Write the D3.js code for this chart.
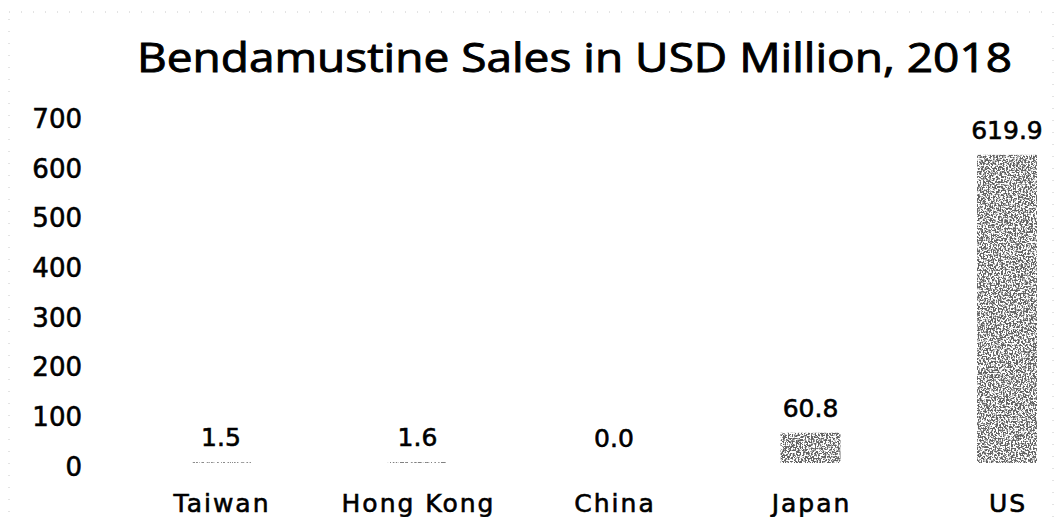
<!DOCTYPE html>
<html>
<head>
<meta charset="utf-8">
<script src="https://cdn.jsdelivr.net/npm/d3@7"></script>
<style>
  body { margin: 0; background: #fff; }
  svg { display: block; }
</style>
</head>
<body>
<div id="chart"></div>
<script>
// chart data
var countries = ["Taiwan", "Hong Kong", "China", "Japan", "US"];
var sales = [1.5, 1.6, 0.0, 60.8, 619.9];
var yTicks = [0, 100, 200, 300, 400, 500, 600, 700];
var title = "Bendamustine Sales in USD Million, 2018";

var svgWidth = 1057;
var svgHeight = 517;

var svg = d3.select("#chart")
  .append("svg")
  .attr("width", svgWidth)
  .attr("height", svgHeight);

// scanned grain look for the bars
var defs = svg.append("defs");
var filter = defs.append("filter")
  .attr("id", "grain")
  .attr("x", 0).attr("y", 0)
  .attr("width", 1).attr("height", 1);
filter.append("feTurbulence")
  .attr("type", "fractalNoise")
  .attr("baseFrequency", 0.6)
  .attr("numOctaves", 2)
  .attr("seed", 3)
  .attr("result", "noise");
filter.append("feColorMatrix")
  .attr("in", "noise")
  .attr("type", "matrix")
  .attr("values", "0 0 0 0 0.12  0 0 0 0 0.12  0 0 0 0 0.12  8 0 0 0 -3.5")
  .attr("result", "dots");
filter.append("feComposite")
  .attr("in", "dots")
  .attr("in2", "SourceGraphic")
  .attr("operator", "in");

// faint dotted frame from the scan
svg.append("rect")
  .attr("x", 9).attr("y", 12)
  .attr("width", 1044).attr("height", 520)
  .attr("fill", "none")
  .attr("stroke", "#c8c8c8")
  .attr("stroke-width", 1)
  .attr("stroke-dasharray", "1,11");

// scales
var x = d3.scaleBand()
  .domain(countries)
  .range([122.75, 1105.25])
  .paddingInner(0.695)
  .paddingOuter(0.3475);

var y = d3.scaleLinear()
  .domain([0, 700])
  .range([463, 115]);

// title
svg.append("text")
  .attr("x", 574.5)
  .attr("y", 72)
  .attr("text-anchor", "middle")
  .attr("textLength", 875)
  .attr("lengthAdjust", "spacingAndGlyphs")
  .style("font-family", "'Open Sans', sans-serif")
  .style("font-size", "40px")
  .style("fill", "#000")
  .style("stroke", "#000")
  .style("stroke-width", "0.9px")
  .text(title);

// left axis, no line or ticks, just labels
var leftAxis = d3.axisLeft(y)
  .tickValues(yTicks)
  .tickSize(0)
  .tickPadding(0);

var yAxis = svg.append("g")
  .attr("transform", "translate(82,0)")
  .call(leftAxis);
yAxis.select(".domain").remove();
yAxis.selectAll("text")
  .attr("dy", "0.32em")
  .attr("y", 4)
  .style("font-family", "'DejaVu Sans', sans-serif")
  .style("font-size", "26px")
  .style("fill", "#000")
  .style("stroke", "#000")
  .style("stroke-width", "0.6px");

// bars
svg.append("g")
  .selectAll("rect")
  .data(sales)
  .enter()
  .append("rect")
  .attr("x", (d, i) => x(countries[i]))
  .attr("y", d => y(d))
  .attr("width", x.bandwidth())
  .attr("height", d => y(0) - y(d))
  .style("fill", "#000")
  .style("filter", "url(#grain)");

// value labels
svg.append("g")
  .selectAll("text")
  .data(sales)
  .enter()
  .append("text")
  .attr("x", (d, i) => x(countries[i]) + x.bandwidth() / 2)
  .attr("y", d => y(d) - 16)
  .attr("text-anchor", "middle")
  .style("font-family", "'DejaVu Sans', sans-serif")
  .style("font-size", "25px")
  .style("fill", "#000")
  .style("stroke", "#000")
  .style("stroke-width", "0.6px")
  .text(d => d.toFixed(1));

// category labels
var bottomAxis = d3.axisBottom(x)
  .tickSize(0)
  .tickPadding(0);

var xAxis = svg.append("g")
  .attr("transform", "translate(0,512)")
  .call(bottomAxis);
xAxis.select(".domain").remove();
xAxis.selectAll("text")
  .attr("dy", 0)
  .attr("dx", "1px")
  .style("font-family", "'DejaVu Sans', sans-serif")
  .style("font-size", "25px")
  .style("letter-spacing", "2px")
  .style("fill", "#000")
  .style("stroke", "#000")
  .style("stroke-width", "0.6px");
</script>
</body>
</html>
